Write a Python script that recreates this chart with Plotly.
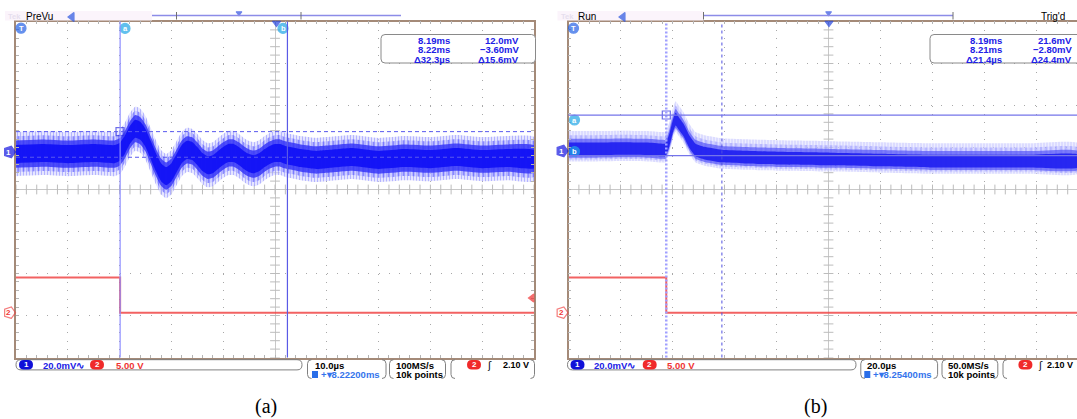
import numpy as np
import plotly.graph_objects as go

# ------------------------------------------------------------------
# values read off the two oscilloscope screens
# ------------------------------------------------------------------
# (a) PreVu, 10.0 us/div, CH1 20.0 mV/div (AC), CH2 5.00 V/div
a_t_us = [-50, -45, -40, -35, -31, -30, -29, -28, -27, -26, -25, -24, -23, -22,
          -21, -20, -19, -18, -17, -16, -15, -14, -13, -12, -11, -10, -9, -8,
          -7, -6, -5, -4, -3, -2, -1, 0, 1, 2, 5, 8, 10, 15, 20, 25, 30, 35,
          40, 45, 50]
a_ch1_mv = [-1.0, -0.5, -1.0, -0.5, -1.0, 0.0, 3.4, 8.2, 11.1, 10.1, 6.7, 1.0,
            -4.8, -9.6, -11.5, -9.6, -5.3, -1.0, 1.0, 0.5, -1.9, -4.8, -6.3,
            -5.8, -3.8, -1.9, -0.5, -0.5, -1.9, -3.8, -5.3, -5.8, -4.8, -2.9,
            -1.4, -0.5, -0.5, -1.4, -2.9, -3.8, -3.4, -2.4, -3.8, -2.9, -3.4,
            -2.4, -3.4, -2.9, -3.4]
a_band_mv = [(10.5, 10.5), (8.5, 8.5), (6.5, 6.5), (4.3, 4.3)]   # (up, down), outer -> core
a_ch2_t_us = [-50, -29.9, -29.9, 50]
a_ch2_v = [4.2, 4.2, 0.0, 0.0]
a_vcursor_us = [-29.9, 2.4]
a_hcursor_mv = [9.7, -2.5]
a_readout = [["8.19ms", "12.0mV"], ["8.22ms", "\u22123.60mV"],
             ["\u039432.3\u00b5s", "\u039415.6mV"]]
a_vscale = ["20.0mV\u223f", "5.00 V"]
a_hscale = ["10.0\u00b5s", "8.22200ms"]
a_acq = ["100MS/s", "10k points"]
a_trig = "2.10 V"

# (b) Run / Trig'd, 20.0 us/div, CH1 20.0 mV/div (AC), CH2 5.00 V/div
b_t_us = [-100, -90, -80, -70, -64, -62.7, -61.2, -59.8, -58.8, -57.5, -55.8,
          -53.5, -51.1, -47.7, -41.1, -32.2, -18.7, 0.6, 20, 39, 58.5, 77.8, 96]
b_ch1_mv = [1.0, 1.0, 1.2, 1.0, 0.5, 0.5, 5.3, 12.0, 15.2, 13.0, 10.1, 4.4,
            0.5, -1.0, -2.4, -2.9, -3.4, -3.8, -4.3, -4.8, -4.8, -4.8, -4.8]
b_band_mv = [(8.5, 6.0), (6.5, 5.0), (4.8, 4.2), (3.0, 3.0)]
b_ch2_t_us = [-100, -62.4, -62.4, 96]
b_ch2_v = [4.2, 4.2, 0.0, 0.0]
b_vcursor_us = [-62.4, -41.0]
b_hcursor_mv = [17.1, -2.2]
b_readout = [["8.19ms", "21.6mV"], ["8.21ms", "\u22122.80mV"],
             ["\u039421.4\u00b5s", "\u039424.4mV"]]
b_vscale = ["20.0mV\u223f", "5.00 V"]
b_hscale = ["20.0\u00b5s", "8.25400ms"]
b_acq = ["50.0MS/s", "10k points"]
b_trig = "2.10 V"

# ------------------------------------------------------------------
# screen geometry (pixels) and colours
# ------------------------------------------------------------------
W, H = 1077, 419
TOP, BOT = 21.5, 357.5
DY = (BOT - TOP) / 8
A_LEFT, A_RIGHT = 16, 534
B_LEFT, B_RIGHT = 568.5, 1088.5      # right edge of screen (b) is cut by the page
A_CH1_ROW, B_CH1_ROW, CH2_ROW = 152, 151, 312.7

SCOPE = "Liberation Sans"
FRAME = "#a48a78"
DOT = "#a8a8a8"
CENTER = "#c8c8c8"
BLUE_TXT = "#2020e6"
RED_TXT = "#f03434"
CYAN = "#1fa6e6"
CH2_RED = "rgba(240,70,70,0.85)"

b_t_max = -100 + 200 * (W - B_LEFT) / (B_RIGHT - B_LEFT)


def grat_x(left, right, rng, dtick):
    return dict(domain=[left / W, min(right / W, 1.0)], range=rng, tick0=0, dtick=dtick,
                showgrid=True, gridcolor=DOT, gridwidth=1, griddash="1px,7.4px",
                zeroline=True, zerolinecolor=CENTER, zerolinewidth=1,
                showline=True, linecolor=FRAME, linewidth=1.5, mirror="allticks",
                ticks="inside", ticklen=3, tickcolor="#b4b4b4",
                minor=dict(dtick=dtick / 5, ticks="inside", ticklen=3, tickcolor="#b4b4b4"),
                showticklabels=False, fixedrange=True)


def grat_y(anchor, mirror):
    return dict(domain=[1 - BOT / H, 1 - TOP / H], range=[-4, 4], tick0=0, dtick=1,
                anchor=anchor, showgrid=True, gridcolor=DOT, gridwidth=1,
                griddash="1px,9.36px", zeroline=True, zerolinecolor=CENTER,
                zerolinewidth=1, showline=True, linecolor=FRAME, linewidth=1.5,
                mirror=mirror, ticks="inside", ticklen=3, tickcolor="#b4b4b4",
                minor=dict(dtick=0.2, ticks="inside", ticklen=3, tickcolor="#b4b4b4"),
                showticklabels=False, fixedrange=True)


def overlay_y(on, anchor, row, per_div):
    return dict(overlaying=on, anchor=anchor, visible=False, fixedrange=True,
                range=[-(BOT - row) / DY * per_div, (row - TOP) / DY * per_div])


def rounded(x0, y0, x1, y1, r):
    return (f"M{x0 + r},{y0} L{x1 - r},{y0} Q{x1},{y0} {x1},{y0 + r} "
            f"L{x1},{y1 - r} Q{x1},{y1} {x1 - r},{y1} L{x0 + r},{y1} "
            f"Q{x0},{y1} {x0},{y1 - r} L{x0},{y0 + r} Q{x0},{y0} {x0 + r},{y0} Z")


def brackets(x0, y0, x1, y1, r):
    return (f"M{x0 + r},{y0} Q{x0},{y0} {x0},{y0 + r} L{x0},{y1 - r} Q{x0},{y1} {x0 + r},{y1} "
            f"M{x1 - r},{y0} Q{x1},{y0} {x1},{y0 + r} L{x1},{y1 - r} Q{x1},{y1} {x1 - r},{y1}")


fig = go.Figure()
shapes, notes = [], []


def pix_shape(**kw):
    shapes.append(dict(xref="x3", yref="y7", **kw))


def label(x, y, text, color="#000000", size=9.5, anchor="left", family=SCOPE, bold=False):
    notes.append(dict(x=x, y=y, xref="x3", yref="y7", text=f"<b>{text}</b>" if bold else text,
                      showarrow=False, xanchor=anchor, yanchor="middle",
                      font=dict(family=family, size=size, color=color)))


def band(t, mid, up, dn, xa, ya, fill, fg=None, size=3, solidity=0.4):
    hi = [m + up for m in mid]
    lo = [m - dn for m in mid]
    pattern = None
    if fg:
        pattern = dict(shape="|", size=size, solidity=solidity, fgcolor=fg,
                       bgcolor=fill, fillmode="replace")
    return go.Scatter(x=list(t) + list(t)[::-1], y=hi + lo[::-1], mode="lines",
                      fill="toself", fillcolor=fill, fillpattern=pattern,
                      line=dict(width=0, shape="spline", smoothing=0.5),
                      xaxis=xa, yaxis=ya, hoverinfo="skip", showlegend=False)


def centre_ticks(xr, step, xa, ya):
    xs = np.arange(xr[0], xr[1] + 1e-6, step)
    ys = np.arange(-4, 4.001, 0.2)
    fig.add_trace(go.Scatter(x=xs, y=np.zeros_like(xs), mode="markers", xaxis=xa, yaxis=ya,
                             marker=dict(symbol="line-ns", size=7, line=dict(width=1, color="#bcbcbc")),
                             hoverinfo="skip", showlegend=False))
    fig.add_trace(go.Scatter(x=np.zeros_like(ys), y=ys, mode="markers", xaxis=xa, yaxis=ya,
                             marker=dict(symbol="line-ew", size=7, line=dict(width=1, color="#bcbcbc")),
                             hoverinfo="skip", showlegend=False))


# ------------------------------------------------------------------
# waveforms
# ------------------------------------------------------------------
centre_ticks([-50, 50], 2, "x", "y")
centre_ticks([-100, 96], 4, "x2", "y4")

fig.add_trace(go.Scatter(x=a_ch2_t_us, y=a_ch2_v, mode="lines", xaxis="x", yaxis="y3",
                         line=dict(color=CH2_RED, width=2), hoverinfo="skip", showlegend=False))
fig.add_trace(go.Scatter(x=b_ch2_t_us, y=b_ch2_v, mode="lines", xaxis="x2", yaxis="y6",
                         line=dict(color=CH2_RED, width=2), hoverinfo="skip", showlegend=False))

# outer light spikes, two beat patterns, then the dense core
a_styles = [("rgba(225,225,255,0.5)", "rgba(130,130,255,0.55)", 3, 0.45),
            ("rgba(160,160,255,0.35)", "rgba(90,90,255,0.6)", 5, 0.35),
            ("rgba(70,70,255,0.7)", "rgba(30,30,240,0.8)", 2, 0.5),
            ("rgba(18,18,245,0.95)", None, 2, 0.5)]
for (up, dn), (fill, fg, sz, so) in zip(a_band_mv, a_styles):
    fig.add_trace(band(a_t_us, a_ch1_mv, up, dn, "x", "y2", fill, fg, sz, so))

b_styles = [("rgba(232,232,255,0.5)", "rgba(165,165,255,0.5)", 3, 0.45),
            ("rgba(190,190,255,0.35)", "rgba(125,125,255,0.5)", 5, 0.35),
            ("rgba(110,110,255,0.55)", "rgba(50,50,240,0.65)", 2, 0.5),
            ("rgba(30,30,240,0.9)", None, 2, 0.5)]
for (up, dn), (fill, fg, sz, so) in zip(b_band_mv, b_styles):
    fig.add_trace(band(b_t_us, b_ch1_mv, up, dn, "x2", "y5", fill, fg, sz, so))

# ------------------------------------------------------------------
# cursors
# ------------------------------------------------------------------
for t, col in zip(a_vcursor_us, ["#8d8dff", "#5a5ae6"]):
    shapes.append(dict(type="line", xref="x", yref="y domain", x0=t, x1=t, y0=0, y1=1,
                       line=dict(color=col, width=1.2)))
for v in a_hcursor_mv:
    shapes.append(dict(type="line", xref="x domain", yref="y2", x0=0, x1=1, y0=v, y1=v,
                       line=dict(color="#5858ee", width=1, dash="4px,3px")))
for t, col, wd, dash in zip(b_vcursor_us, ["#a0a0ff", "#5050e0"], [2.5, 1], ["2px,2px", "3px,3px"]):
    shapes.append(dict(type="line", xref="x2", yref="y4 domain", x0=t, x1=t, y0=0, y1=1,
                       line=dict(color=col, width=wd, dash=dash)))
for v in b_hcursor_mv:
    shapes.append(dict(type="line", xref="x2 domain", yref="y5", x0=0, x1=1, y0=v, y1=v,
                       line=dict(color="#7474ea", width=1.2)))

# ------------------------------------------------------------------
# scope decorations, in page pixels
# ------------------------------------------------------------------
icons = dict(x=[], y=[], symbol=[], size=[], color=[], angle=[])


def icon(x, y, symbol, size, color, angle=0):
    for k, v in zip(["x", "y", "symbol", "size", "color", "angle"], [x, y, symbol, size, color, angle]):
        icons[k].append(v)


def pill(xc, yc, text, color, w=14, h=9.5):
    pix_shape(type="path", path=rounded(xc - w / 2, yc - h / 2, xc + w / 2, yc + h / 2, h / 2),
              fillcolor=color, line=dict(width=0))
    label(xc, yc, text, "#ffffff", 8, "center", bold=True)


def badge(x, y, text, color=CYAN, size=10):
    icon(x, y, "circle", size, color)
    label(x, y + 0.3, text, "#ffffff", 7.5, "center", bold=True)


screens = [
    dict(left=A_LEFT, right=A_RIGHT, ch1=A_CH1_ROW, mode="PreVu", mode_x=23.5, rec=(152, 401),
         rec_ticks=(176.5, 301), rec_mid=239, icon_x=72, t_mark=276.5,
         box=(381, 535.5), sq_x=392, col1=452, col2=521, a_badge_x=403,
         readout=a_readout, vscale=a_vscale, hscale=a_hscale, acq=a_acq, trig=a_trig,
         sb=(16, 302, 307.5, 386, 389.5, 445.5, 451, 534.5),
         pills=(26, 97), vtxt=(40.5, 113.5), htxt=313, acqtxt=394, trig_pill=474,
         slope=489.6, trigtxt=(531, "right")),
    dict(left=B_LEFT, right=B_RIGHT, ch1=B_CH1_ROW, mode="Run", mode_x=575.5, rec=(703.5, 953),
         rec_ticks=(703.5, 953), rec_mid=828.6, icon_x=623, t_mark=829,
         box=(930, 1090), sq_x=943, col1=1003.5, col2=1074, a_badge_x=1020,
         readout=b_readout, vscale=b_vscale, hscale=b_hscale, acq=b_acq, trig=b_trig,
         sb=(567.5, 856, 860.8, 937.6, 942, 997.8, 1003, 1095),
         pills=(577.5, 649.7), vtxt=(592.3, 664.6), htxt=865.3, acqtxt=946.2, trig_pill=1025.4,
         slope=1040.9, trigtxt=(1075, "right")),
]

for s in screens:
    L = s["left"]
    # top status strip
    pix_shape(type="rect", x0=L - 11, x1=s["rec"][0], y0=11, y1=20.5,
              fillcolor="#fbf4fb", line=dict(width=0), layer="below")
    label(L - 10, 16, "Tek", "#e6deee", 7.5, bold=True)
    label(s["mode_x"], 16.3, s["mode"], "#000000", 10)
    icon(s["icon_x"], 17, "triangle-left", 8, "#2a55e0")
    pix_shape(type="line", x0=s["rec"][0], x1=s["rec"][1], y0=15.5, y1=15.5,
              line=dict(color="#8c8ce8", width=1.6))
    for xt in s["rec_ticks"]:
        pix_shape(type="line", x0=xt, x1=xt, y0=12, y1=19.5, line=dict(color="#707070", width=1))
    icon(s["rec_mid"], 13, "triangle-down", 5, "#3050e0")
    # graticule markers
    icon(L + 5, 28.2, "circle", 10, "#2462e6")
    label(L + 5, 28.4, "T", "#ffffff", 7.5, "center", bold=True)
    icon(s["t_mark"], 23, "triangle-down", 7, "#2244e0")
    icon(L - 6.5, s["ch1"], "pentagon", 12, "#1414e0", 90)
    label(L - 7.5, s["ch1"], "1", "#ffffff", 8, "center", bold=True)
    icon(L - 6.5, CH2_ROW, "pentagon-open", 12, "#f04444", 90)
    label(L - 7.5, CH2_ROW, "2", RED_TXT, 8, "center", bold=True)
    # measurement readout box
    bx0, bx1 = s["box"]
    pix_shape(type="path", path=rounded(bx0, 34.5, bx1, 63, 4), fillcolor="#ffffff",
              line=dict(color="#8a8a8a", width=1))
    rows = [40, 49.5, 59]
    icon(s["sq_x"], rows[0], "square-open", 9, "#3030e0")
    icon(s["sq_x"], rows[1], "circle-open", 9, "#3030e0")
    badge(s["a_badge_x"], rows[0], "a")
    badge(s["a_badge_x"], rows[1], "b")
    for yy, (c1, c2) in zip(rows, s["readout"]):
        label(s["col1"], yy, c1, BLUE_TXT, 9.5, "right", bold=True)
        label(s["col2"], yy, c2, BLUE_TXT, 9.5, "right", bold=True)
    # bottom status bar
    x0, x1, x2, x3, x4, x5, x6, x7 = s["sb"]
    pix_shape(type="path", path=rounded(x0, 359.7, x1, 369.9, 5), line=dict(color="#808080", width=1))
    pix_shape(type="path", path=brackets(x2, 359.7, x3, 378.5, 4), line=dict(color="#808080", width=1))
    pix_shape(type="path", path=brackets(x4, 359.7, x5, 378.5, 4), line=dict(color="#808080", width=1))
    pix_shape(type="path", path=brackets(x6, 359.7, x7, 378.5, 4), line=dict(color="#808080", width=1))
    pill(s["pills"][0], 364.8, "1", "#1010d8")
    pill(s["pills"][1], 364.8, "2", "#f02a2a")
    label(s["vtxt"][0], 365, s["vscale"][0], BLUE_TXT, 9.5, bold=True)
    label(s["vtxt"][1], 365, s["vscale"][1], RED_TXT, 9.5, bold=True)
    label(s["htxt"], 365, s["hscale"][0], "#000000", 9.5, bold=True)
    pix_shape(type="rect", x0=s["htxt"] - 1, x1=s["htxt"] + 5, y0=371, y1=378, fillcolor="#2a6ee8",
              line=dict(width=0))
    label(s["htxt"] + 6, 374.6, "+\u25be" + s["hscale"][1], "#3474ec", 9.5, bold=True)
    label(s["acqtxt"], 365, s["acq"][0], "#000000", 9.5, bold=True)
    label(s["acqtxt"], 374.6, s["acq"][1], "#000000", 9.5, bold=True)
    pill(s["trig_pill"], 364.8, "2", "#f02a2a")
    label(s["slope"], 365, "\u0283", "#000000", 10, "center", "DejaVu Sans")
    label(s["trigtxt"][0], 365, s["trig"], "#000000", 9, s["trigtxt"][1], bold=True)

# cursor badges / markers on the graticules
badge(125, 28.4, "a")
badge(283, 28.4, "b")
badge(574.5, 120, "a")
badge(574.5, 151.5, "b")
icon(120, 131.7, "square-open", 8, "#3030e0")
icon(666.3, 115, "square-open", 8, "#3030e0")
icon(532, 298, "triangle-left", 7, "#f03030")
label(1038.5, 16.3, "Trig'd", "#000000", 10)

fig.add_trace(go.Scatter(x=icons["x"], y=icons["y"], mode="markers", xaxis="x3", yaxis="y7",
                         marker=dict(symbol=icons["symbol"], size=icons["size"], color=icons["color"],
                                     angle=icons["angle"], line=dict(width=1.2, color=icons["color"])),
                         hoverinfo="skip", showlegend=False))

# captions
label(266, 406.5, "(a)", "#000000", 20, "center", "Liberation Serif")
label(815, 406.5, "(b)", "#000000", 20, "center", "Liberation Serif")

fig.update_layout(
    width=W, height=H, autosize=False,
    margin=dict(l=0, r=0, t=0, b=0),
    paper_bgcolor="#ffffff", plot_bgcolor="rgba(0,0,0,0)",
    showlegend=False,
    xaxis=grat_x(A_LEFT, A_RIGHT, [-50, 50], 10) | dict(anchor="y"),
    yaxis=grat_y("x", "allticks"),
    yaxis2=overlay_y("y", "x", A_CH1_ROW, 20),
    yaxis3=overlay_y("y", "x", CH2_ROW, 5),
    xaxis2=grat_x(B_LEFT, B_RIGHT, [-100, b_t_max], 20) | dict(anchor="y4"),
    yaxis4=grat_y("x2", False),
    yaxis5=overlay_y("y4", "x2", B_CH1_ROW, 20),
    yaxis6=overlay_y("y4", "x2", CH2_ROW, 5),
    xaxis3=dict(domain=[0, 1], range=[0, W], anchor="y7", visible=False, fixedrange=True),
    yaxis7=dict(domain=[0, 1], range=[H, 0], anchor="x3", visible=False, fixedrange=True),
    shapes=shapes,
    annotations=notes,
)

# the page body has a default 8px margin; drop it so the figure sits at the window's corner
fig.write_html("out.html", config={"displayModeBar": False},
               post_script="document.body.style.margin='0';"
                           "document.body.style.overflow='hidden';")
